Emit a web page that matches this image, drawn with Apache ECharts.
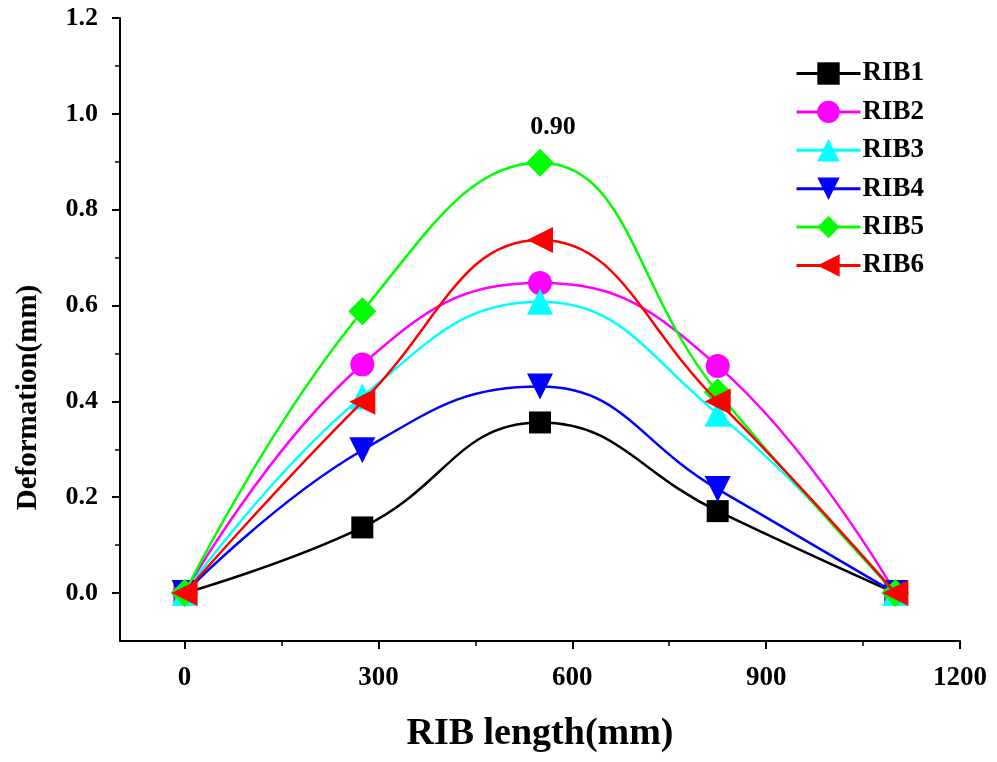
<!DOCTYPE html>
<html>
<head>
<meta charset="utf-8">
<script src="https://cdn.jsdelivr.net/npm/echarts@6/dist/echarts.min.js"></script>
<style>
html,body{margin:0;padding:0;background:#fff;}
#c{width:997px;height:762px;}
</style>
</head>
<body>
<div id="c"></div>
<script>
var xValues = [0, 275, 550, 825, 1100];
var seriesNames = ['RIB1', 'RIB2', 'RIB3', 'RIB4', 'RIB5', 'RIB6'];
var rib1 = [0, 0.137, 0.356, 0.171, 0];
var rib2 = [0, 0.477, 0.647, 0.474, 0];
var rib3 = [0, 0.410, 0.608, 0.374, 0];
var rib4 = [0, 0.298, 0.431, 0.217, 0];
var rib5 = [0, 0.588, 0.898, 0.419, 0];
var rib6 = [0, 0.399, 0.737, 0.400, 0];
var xMajorTicks = [0, 300, 600, 900, 1200];
var xMinorTicks = [150, 450, 750, 1050];
var yMajorTicks = [0, 0.2, 0.4, 0.6, 0.8, 1.0, 1.2];
var yMinorTicks = [0.1, 0.3, 0.5, 0.7, 0.9, 1.1];
var annotatedIndex = 2; // RIB5 peak label

var FONT = '"Liberation Serif", "Times New Roman", serif';
var colors = ['#000000', '#ff00ff', '#00ffff', '#0000ff', '#00ff00', '#ff0000'];
var symbols = ['rect', 'circle', 'triangle', 'triangle', 'diamond', 'triangle'];
var symbolSizes = [22, 24, 26, 26, 28, 26];
var rotates = [0, 0, 0, 180, 0, 90];
var allData = [rib1, rib2, rib3, rib4, rib5, rib6];

function pairs(arr, showLabelAt) {
  return arr.map(function (v, i) {
    var d = { value: [xValues[i], v] };
    if (showLabelAt === i) {
      d.label = {
        show: true, position: 'top', distance: 8, offset: [13, 0],
        formatter: function (p) { return p.value[1].toFixed(2); },
        fontFamily: FONT, fontWeight: 'bold', fontSize: 26, color: '#000'
      };
    }
    return d;
  });
}

var series = seriesNames.map(function (n, k) {
  return {
    name: n, type: 'line', xAxisIndex: 0, yAxisIndex: 0,
    data: pairs(allData[k], k === 4 ? annotatedIndex : -1),
    smooth: 0.45,
    symbol: symbols[k], symbolSize: symbolSizes[k], symbolRotate: rotates[k],
    lineStyle: { color: colors[k], width: 2.5 },
    itemStyle: { color: colors[k] },
    z: 2 + k,
    animation: false
  };
});

var baseX = { type: 'value', min: -100, max: 1200, position: 'bottom', gridIndex: 0,
  splitLine: { show: false }, axisLine: { show: true, onZero: false, lineStyle: { color: '#000', width: 2 } } };
var baseY = { type: 'value', min: -0.1, max: 1.2, position: 'left', gridIndex: 0,
  splitLine: { show: false }, axisLine: { show: true, onZero: false, lineStyle: { color: '#000', width: 2 } } };

var option = {
  backgroundColor: '#fff',
  animation: false,
  grid: { left: 120, right: 37, top: 18, bottom: 121, containLabel: false, outerBoundsMode: 'none' },
  legend: {
    data: seriesNames,
    orient: 'vertical', left: 795, top: 60, padding: 0,
    itemWidth: 64, itemHeight: 28, itemGap: 11.4,
    lineStyle: { width: 3 },
    textStyle: { fontFamily: FONT, fontWeight: 'bold', fontSize: 27, color: '#000', padding: [0, 0, 0, -3] }
  },
  xAxis: [
    Object.assign({}, baseX, {
      name: 'RIB length(mm)', nameLocation: 'middle', nameGap: 74,
      nameTextStyle: { fontFamily: FONT, fontWeight: 'bold', fontSize: 38, color: '#000' },
      axisTick: { show: true, inside: false, length: 8, lineStyle: { color: '#000', width: 2 }, customValues: xMajorTicks },
      axisLabel: { show: true, margin: 24, fontFamily: FONT, fontWeight: 'bold', fontSize: 27, color: '#000',
        customValues: xMajorTicks, formatter: function (v) { return String(v); } }
    }),
    Object.assign({}, baseX, {
      axisLine: { show: false, onZero: false },
      axisTick: { show: true, length: 5, lineStyle: { color: '#000', width: 1.5 }, customValues: xMinorTicks },
      axisLabel: { show: false }
    })
  ],
  yAxis: [
    Object.assign({}, baseY, {
      name: 'Deformation(mm)', nameLocation: 'middle', nameGap: 77, nameRotate: 90,
      nameTextStyle: { fontFamily: FONT, fontWeight: 'bold', fontSize: 29, color: '#000', padding: [0, 136, 0, 0] },
      axisTick: { show: true, length: 8, lineStyle: { color: '#000', width: 2 }, customValues: yMajorTicks },
      axisLabel: { show: true, margin: 22, fontFamily: FONT, fontWeight: 'bold', fontSize: 26, color: '#000',
        customValues: yMajorTicks, formatter: function (v) { return v.toFixed(1); } }
    }),
    Object.assign({}, baseY, {
      axisLine: { show: false, onZero: false },
      axisTick: { show: true, length: 5, lineStyle: { color: '#000', width: 1.5 }, customValues: yMinorTicks },
      axisLabel: { show: false }
    })
  ],
  series: series
};

var chart = echarts.init(document.getElementById('c'), null, { renderer: 'canvas' });
chart.setOption(option);
</script>
</body>
</html>
